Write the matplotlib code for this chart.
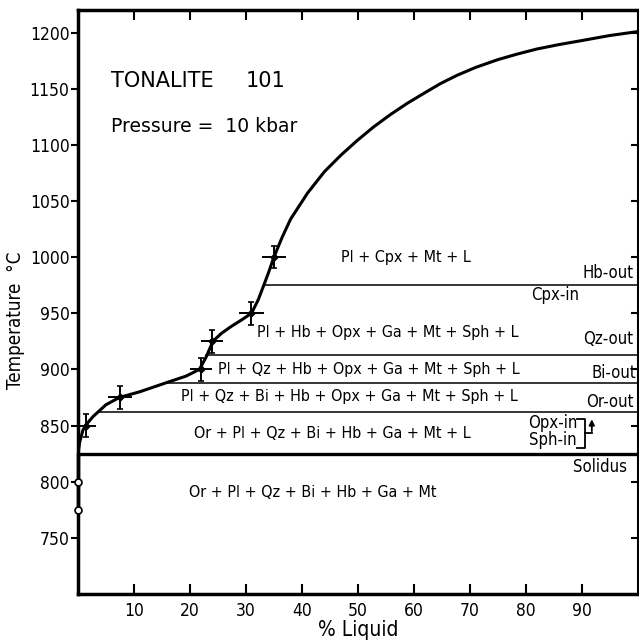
import numpy as np
import matplotlib
matplotlib.use('Agg')
from matplotlib import pyplot as plt

liq_pts = [1.4, 7.5, 22.0, 24.0, 31.0, 35.0]
temp_pts = [850, 875, 900, 925, 950, 1000]
liq_err = [1.8, 2.2, 2.0, 2.0, 2.2, 2.1]
temp_err = [10, 10, 10, 10, 10, 10]

# Curva de fusion (porcentaje de liquido vs temperatura)
curva_liq = [0, 0.3, 0.9, 1.5, 2.7, 5.0, 7.4, 11, 15.7, 19.3, 21.7, 22.9, 24.1, 25.6,
             27.3, 29.2, 31, 32.2, 33.2, 34.1, 35, 36.5, 38, 41, 44, 47, 49.9, 52.8,
             55.8, 58.8, 61.8, 64.7, 67.7, 71, 75, 78.5, 82, 86, 90, 95, 100]
curva_temp = [824, 835, 846, 851, 858, 868.5, 875, 880, 888, 894, 900, 911, 925, 932,
              938, 944, 950, 962, 975, 987, 1000, 1018, 1034, 1057, 1076, 1091, 1104, 1116,
              1127, 1137, 1146, 1154.5, 1162, 1169, 1176, 1181, 1185.5, 1189.5, 1193, 1197.5, 1201]

# Lineas de limite de fase: temperatura y % liquido donde empiezan
lim_temp = [975, 913, 888, 862]
lim_inicio = [33.2, 22.9, 15.9, 3.6]
solidus = 825

# Puntos abiertos sobre el eje
abiertos_temp = [800, 775]

# Etiquetas de campos
campos = ['Pl + Cpx + Mt + L',
          'Pl + Hb + Opx + Ga + Mt + Sph + L',
          'Pl + Qz + Hb + Opx + Ga + Mt + Sph + L',
          'Pl + Qz + Bi + Hb + Opx + Ga + Mt + Sph + L',
          'Or + Pl + Qz + Bi + Hb + Ga + Mt + L',
          'Or + Pl + Qz + Bi + Hb + Ga + Mt']
campos_x = [58.5, 55.3, 25.0, 18.4, 20.8, 19.9]
campos_y = [1000, 933, 900, 876, 843, 790]
campos_ha = ['center', 'center', 'left', 'left', 'left', 'left']

reacciones = ['Hb-out', 'Cpx-in', 'Qz-out', 'Bi-out', 'Or-out', 'Solidus']
reac_x = [99.2, 85.2, 99.2, 99.8, 99.3, 98.0]
reac_y = [986, 966, 927, 897, 871, 813]
reac_ha = ['right', 'center', 'right', 'right', 'right', 'right']

plt.rcParams['font.family'] = ['DejaVu Sans']
plt.rcParams['font.stretch'] = 'condensed'
fig = plt.figure(figsize=(6.39, 6.42), dpi=100)
ax = fig.add_axes([0.122, 0.075, 0.876, 0.909])

# Curva y limites
ax.plot(curva_liq, curva_temp, color='black', lw=2.2, solid_capstyle='round', zorder=3)
for t, x0 in zip(lim_temp, lim_inicio):
    ax.plot([x0, 100], [t, t], color='black', lw=1.1)
ax.plot([0, 100], [solidus, solidus], color='black', lw=2.4)

# Barras de error
ax.errorbar(liq_pts, temp_pts, yerr=temp_err, fmt='none', ecolor='black',
            elinewidth=1.4, capsize=2.5, capthick=1.2, zorder=4)
ax.errorbar(liq_pts, temp_pts, xerr=liq_err, fmt='D', color='black', ms=3.5,
            ecolor='black', elinewidth=1.4, capsize=0, zorder=4)

# Linea sobre el eje y puntos abiertos
ax.plot([0, 0], [min(abiertos_temp), solidus], color='black', lw=2.5, clip_on=False)
ax.plot([0] * len(abiertos_temp), abiertos_temp, 'o', mfc='white', mec='black',
        ms=5, mew=1.2, clip_on=False, zorder=5)

# Textos
ax.text(5.9, 1157, 'TONALITE', fontsize=15, va='center', ha='left', stretch='normal')
ax.text(30.0, 1157, '101', fontsize=15, va='center', ha='left', stretch='normal')
ax.text(5.9, 1116, 'Pressure =  10 kbar', fontsize=13.5, va='center', ha='left',
        stretch='normal')
for s, x, y, h in zip(campos, campos_x, campos_y, campos_ha):
    ax.text(x, y, s, fontsize=11.5, va='center', ha=h)
for s, x, y, h in zip(reacciones, reac_x, reac_y, reac_ha):
    ax.text(x, y, s, fontsize=12, va='center', ha=h)
ax.text(84.8, 852.5, 'Opx-in', fontsize=12, va='center', ha='center')
ax.text(84.8, 837.5, 'Sph-in', fontsize=12, va='center', ha='center')
# corchete y flecha
ax.plot([89.1, 90.5, 90.5, 89.1], [856, 856, 830, 830], color='black', lw=1.3)
ax.plot([90.5, 91.8], [843, 843], color='black', lw=1.3)
ax.annotate('', xy=(91.8, 858), xytext=(91.8, 842.5),
            arrowprops=dict(arrowstyle='-|>', color='black', lw=1.3, mutation_scale=8))

ax.set_xlim(0, 100)
ax.set_ylim(700, 1220)
ax.set_xticks(np.arange(10, 100, 10))
ax.set_yticks(np.arange(750, 1201, 50))
ax.tick_params(axis='x', direction='in', top=True, length=7, width=1.5, labelsize=12.5, pad=6)
ax.tick_params(axis='y', direction='out', length=5, width=1.5, labelsize=12.5, pad=1)
ax.tick_params(axis='y', which='both', right=True)
for t in ax.yaxis.get_major_ticks():
    t.tick2line.set_marker(matplotlib.lines.TICKLEFT)
for s in ax.spines.values():
    s.set_linewidth(2.5)
ax.spines['right'].set_linewidth(1.5)

ax.set_xlabel('% Liquid', fontsize=15, labelpad=0)
ax.set_ylabel('Temperature  °C', fontsize=13.5)
ax.yaxis.set_label_coords(-0.095, 0.469)

plt.savefig('out.png', dpi=100)
